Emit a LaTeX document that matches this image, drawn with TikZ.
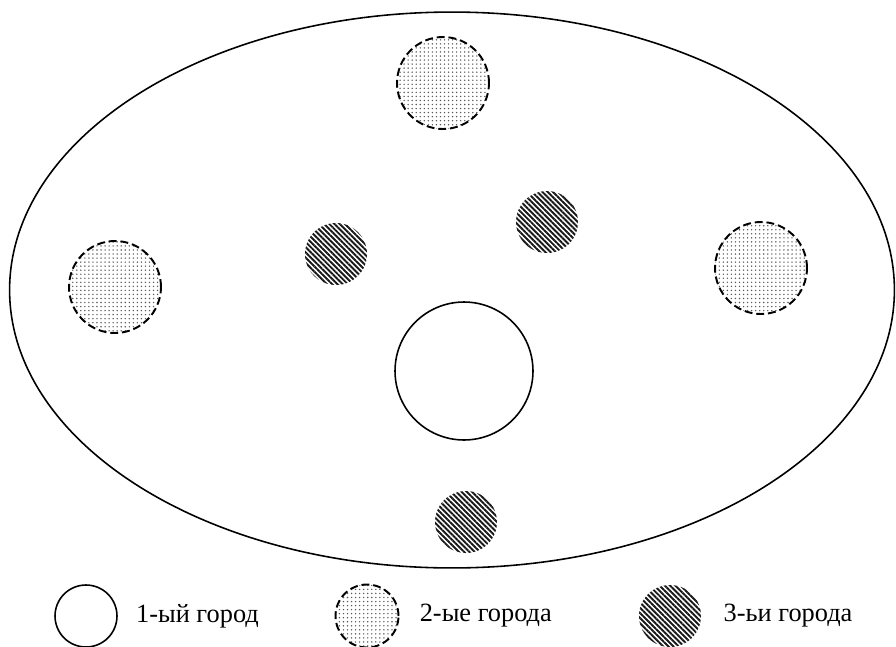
\documentclass[tikz,border=0pt]{standalone}
\usepackage{fontspec}
\setmainfont{Liberation Serif}
\usepackage{tikz}
\usetikzlibrary{positioning,shapes.geometric,patterns.meta}

\begin{document}
\begin{tikzpicture}[x=0.02cm, y=-0.02cm, node distance=0.2cm, every node/.style={font=\fontsize{15}{17}\selectfont}]
\tikzset{city1/.style={draw, circle, line width=0.9pt, inner sep=0pt, fill=white}}
\tikzset{city2/.style={draw, circle, dashed, dash pattern=on 4.5pt off 2.2pt, line width=1.1pt, inner sep=0pt, minimum size=1.84cm, pattern={Dots[radius=0.45pt, distance=2.3pt]}, pattern color=black!65}}
\tikzset{city3/.style={circle, inner sep=0pt, minimum size=1.24cm, pattern={Lines[angle=-45, distance=2.1pt, line width=1.1pt]}, pattern color=black!90}}
\tikzset{legend/.style={anchor=west, inner sep=0pt}}
\useasboundingbox (0,0) rectangle (896,646);
% region
\node[draw, ellipse, line width=0.9pt, inner sep=0pt, minimum width=17.7cm, minimum height=11.12cm] (region) at (452,290) {};
% first city
\node[city1, minimum size=2.76cm] (c1) at (464,371) {};
% second cities
\node[city2] (c2top) at (443,83) {};
\node[city2] (c2left) at (115,287) {};
\node[city2] (c2right) at (761,268) {};
% third cities
\node[city3] (c3left) at (336,254) {};
\node[city3] (c3right) at (547,222) {};
\node[city3] (c3bottom) at (466,522) {};
% legend
\node[city1, minimum size=1.24cm] (key1) at (86,616) {};
\node[legend, right=0.36cm of key1.east] (lab1) {1-ый город};
\node[city2, minimum size=1.26cm] (key2) at (367,616) {};
\node[legend, right=0.4cm of key2.east] (lab2) {2-ые города};
\node[city3] (key3) at (670,616) {};
\node[legend, right=0.44cm of key3.east] (lab3) {3-ьи города};
\end{tikzpicture}
\end{document}
